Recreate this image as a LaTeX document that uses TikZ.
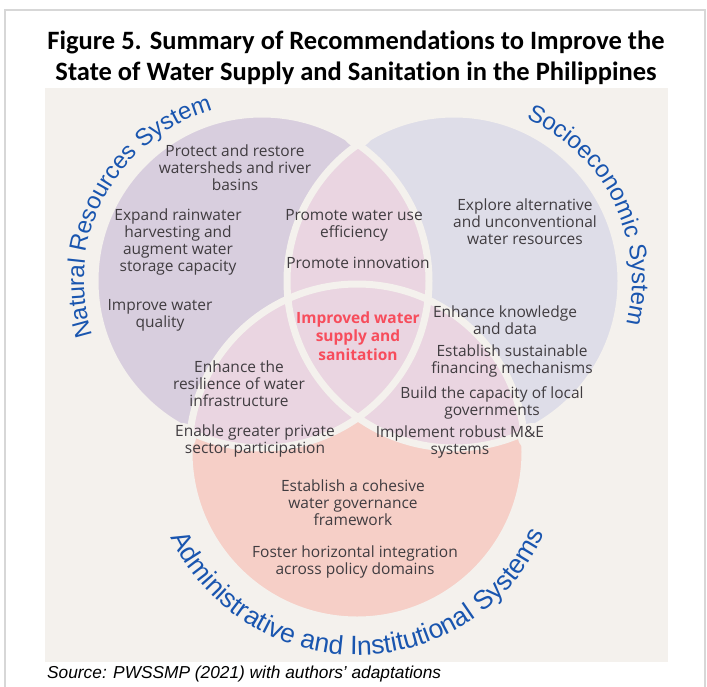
\documentclass[tikz,border=0pt]{standalone}
\usepackage{fontspec}
\setmainfont{Open Sans}
\newfontfamily\titlefont[Ligatures=CommonOff]{Carlito}
\newfontfamily\lblfamily{Liberation Sans}
\usetikzlibrary{decorations.text,calc}
\definecolor{panel}{RGB}{244,241,237}
\definecolor{nrs}{RGB}{216,206,222}
\definecolor{ses}{RGB}{222,221,232}
\definecolor{ais}{RGB}{246,207,199}
\definecolor{overlap}{RGB}{234,213,225}
\definecolor{lbl}{RGB}{25,85,175}
\definecolor{bodytext}{RGB}{64,60,64}
\definecolor{core}{RGB}{247,77,92}
\definecolor{framegray}{RGB}{215,215,215}
\tikzset{
  item/.style={align=center, font=\fontsize{15.5}{17}\selectfont, text=bodytext, inner sep=0pt},
  coreitem/.style={align=center, font=\bfseries\fontsize{15.5}{18.5}\selectfont, text=core, inner sep=0pt},
  gap/.style={draw=panel, line width=7pt},
  notch/.style={fill=panel},
  titletext/.style={anchor=base, inner sep=0pt, font=\titlefont\bfseries\fontsize{26.5}{31}\selectfont},
}
\begin{document}
\begin{tikzpicture}[x=1pt,y=1pt]
\useasboundingbox (0,0) rectangle (707,-686);
\fill[white] (0,0) rectangle (707,-686);
\draw[framegray, line width=2pt] (5,-10) rectangle (705,-720);
% title
\node[titletext] (t1) at (356,-49) {Figure 5. Summary of Recommendations to Improve the};
\node[titletext] (t2) at (356,-80) {State of Water Supply and Sanitation in the Philippines};
% panel
\fill[panel] (45,-88) rectangle (668,-662);
% circles
\coordinate (cL) at (262,-281);
\coordinate (cR) at (454,-281);
\coordinate (cB) at (357,-452);
\fill[nrs] (cL) circle (167);
\fill[ses] (cR) circle (167);
\fill[ais] (cB) circle (168);
\begin{scope}
  \clip (cL) circle (167);
  \fill[overlap] (cR) circle (167);
  \fill[overlap] (cB) circle (168);
\end{scope}
\begin{scope}
  \clip (cR) circle (167);
  \fill[overlap] (cB) circle (168);
\end{scope}
\draw[gap] (cL) circle (167) (cR) circle (167) (cB) circle (168);
% blunted tips where the petals meet
\fill[notch] (358,-132) circle (15);
\fill[notch] (182,-437) circle (14);
\fill[notch] (532,-437) circle (14);
% curved labels
\path[decorate, decoration={text along path, text align=center, text color=lbl,
  text={|\lblfamily\fontsize{24}{24}\selectfont|Natural Resources System}}]
  ($(cL)+(240:178)$) arc[start angle=240, end angle=64, radius=178];
\path[decorate, decoration={text along path, text align=center, text color=lbl,
  text={|\lblfamily\fontsize{24}{24}\selectfont|Socioeconomic System}}]
  ($(cR)+(114:178)$) arc[start angle=114, end angle=-62, radius=178];
\coordinate (cT) at (357,-449);
\path[decorate, decoration={text along path, text align=center, text color=lbl,
  text={|\lblfamily\fontsize{26.5}{26.5}\selectfont|Administrative and Institutional Systems}}]
  ($(cT)+(180:206)$) arc[start angle=180, end angle=361, radius=206];
% items
\node[item] (n1) at (235,-168) {Protect and restore\\watersheds and river\\basins};
\node[item] (n2) at (178,-242) {Expand rainwater\\harvesting and\\augment water\\storage capacity};
\node[item] (n3) at (160,-315) {Improve water\\quality};
\node[item] (n4) at (354,-225) {Promote water use\\efficiency};
\node[item] (n5) at (358,-263) {Promote innovation};
\node[item] (n6) at (525,-222) {Explore alternative\\and unconventional\\water resources};
\node[coreitem] (n7) at (358,-336) {Improved water\\supply and\\sanitation};
\node[item] (n8) at (505,-320) {Enhance knowledge\\and data};
\node[item] (n9) at (512,-361) {Establish sustainable\\financing mechanisms};
\node[item] (n10) at (492,-403) {Build the capacity of local\\governments};
\node[item] (n11) at (460,-442) {Implement robust M\&E\\systems};
\node[item] (n12) at (239,-384) {Enhance the\\resilience of water\\infrastructure};
\node[item] (n13) at (255,-441) {Enable greater private\\sector participation};
\node[item] (n14) at (353,-503) {Establish a cohesive\\water governance\\framework};
\node[item] (n15) at (355,-562) {Foster horizontal integration\\across policy domains};
% source
\node[anchor=base west, inner sep=0pt, font=\lblfamily\itshape\fontsize{17.3}{20}\selectfont] (src) at (47,-678) {Source: PWSSMP (2021) with authors’ adaptations};
\end{tikzpicture}
\end{document}
